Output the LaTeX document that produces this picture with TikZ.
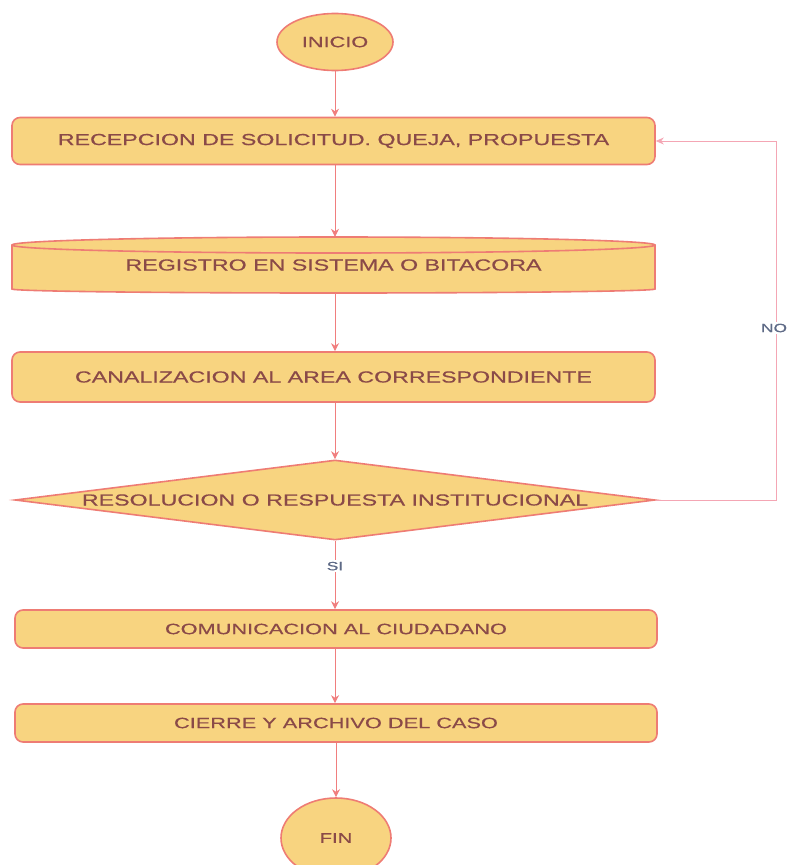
\documentclass[tikz,border=0pt]{standalone}
\usepackage{fontspec}
\setmainfont{Liberation Sans}[FakeStretch=1.45, FakeBold=0.5]
\usetikzlibrary{shapes.geometric,arrows.meta}
\definecolor{boxfill}{HTML}{F8D480}
\definecolor{boxline}{HTML}{EE7C74}
\definecolor{txt}{HTML}{8A4A48}
\definecolor{arrline}{HTML}{F07E7E}
\definecolor{loopline}{HTML}{F4A6B4}
\definecolor{lbl}{HTML}{5E6A86}
\tikzset{
  shapestyle/.style={draw=boxline, line width=1.6pt, fill=boxfill, text=txt, font=\fontsize{16}{18}\selectfont, inner sep=0pt},
  procbox/.style={shapestyle, rectangle, rounded corners=8pt, minimum width=643pt},
  termnode/.style={shapestyle, ellipse},
  decnode/.style={shapestyle, diamond, minimum width=640pt, minimum height=80pt},
  arr/.style={draw=arrline, line width=0.9pt, -{Stealth[length=8pt,width=8pt]}},
  looparr/.style={draw=loopline, line width=0.8pt, -{Stealth[length=8pt,width=7pt]}},
  lbltext/.style={text=lbl, font=\fontsize{12}{14}\selectfont, fill=white, inner sep=2pt}
}
\begin{document}
\begin{tikzpicture}[x=1pt,y=1pt]
\useasboundingbox (0,0) rectangle (792,-865);
% nodes
\node[termnode, minimum width=116pt, minimum height=57pt] (inicio) at (335,-42) {\makebox[0pt]{\fontsize{15}{17}\selectfont INICIO}};
\node[procbox, minimum height=47pt] (recep) at (333.5,-141) {\makebox[0pt]{RECEPCION DE SOLICITUD. QUEJA, PROPUESTA}};
% cylinder-like storage shape
\filldraw[draw=boxline, line width=1.6pt, fill=boxfill]
  (12,-245) -- (12,-289) arc[start angle=180, end angle=360, x radius=321.5pt, y radius=4pt]
  -- (655,-245) arc[start angle=0, end angle=180, x radius=321.5pt, y radius=8pt] -- cycle;
\draw[draw=boxline, line width=1.6pt] (12,-245) arc[start angle=180, end angle=360, x radius=321.5pt, y radius=8pt];
\node[rectangle, inner sep=0pt, minimum width=643pt, minimum height=56pt, text=txt, font=\fontsize{16}{18}\selectfont] (reg) at (333.5,-265) {\makebox[0pt]{\raisebox{-4pt}{REGISTRO EN SISTEMA O BITACORA}}};
\node[procbox, minimum height=50pt] (canal) at (333.5,-377) {\makebox[0pt]{CANALIZACION AL AREA CORRESPONDIENTE}};
\node[decnode] (dec) at (335,-500) {\makebox[0pt]{RESOLUCION O RESPUESTA INSTITUCIONAL}};
\node[procbox, minimum width=642pt, minimum height=38pt] (comun) at (336,-629) {\makebox[0pt]{\fontsize{15}{17}\selectfont COMUNICACION AL CIUDADANO}};
\node[procbox, minimum width=642pt, minimum height=38pt] (cierre) at (336,-723) {\makebox[0pt]{\fontsize{15}{17}\selectfont CIERRE Y ARCHIVO DEL CASO}};
\node[termnode, minimum width=110pt, minimum height=80pt] (fin) at (336,-838) {\makebox[0pt]{\fontsize{14}{16}\selectfont FIN}};
% connectors
\draw[arr] (inicio.south) -- (inicio.south |- recep.north);
\draw[arr] (inicio.south |- recep.south) -- (inicio.south |- reg.north);
\draw[arr] (inicio.south |- reg.south) -- (inicio.south |- canal.north);
\draw[arr] (inicio.south |- canal.south) -- (dec.north);
\draw[arr] (dec.south) -- (dec.south |- comun.north) node[pos=0.37, lbltext] (si) {SI};
\draw[arr] (dec.south |- comun.south) -- (dec.south |- cierre.north);
\draw[arr] (cierre.south) -- (fin.north);
\coordinate (loopc) at (776,-500);
\draw[looparr] (dec.east) -- (loopc) -- (loopc |- recep.east) -- (recep.east);
\node[lbltext] (no) at (774,-328) {NO};
\end{tikzpicture}
\end{document}
